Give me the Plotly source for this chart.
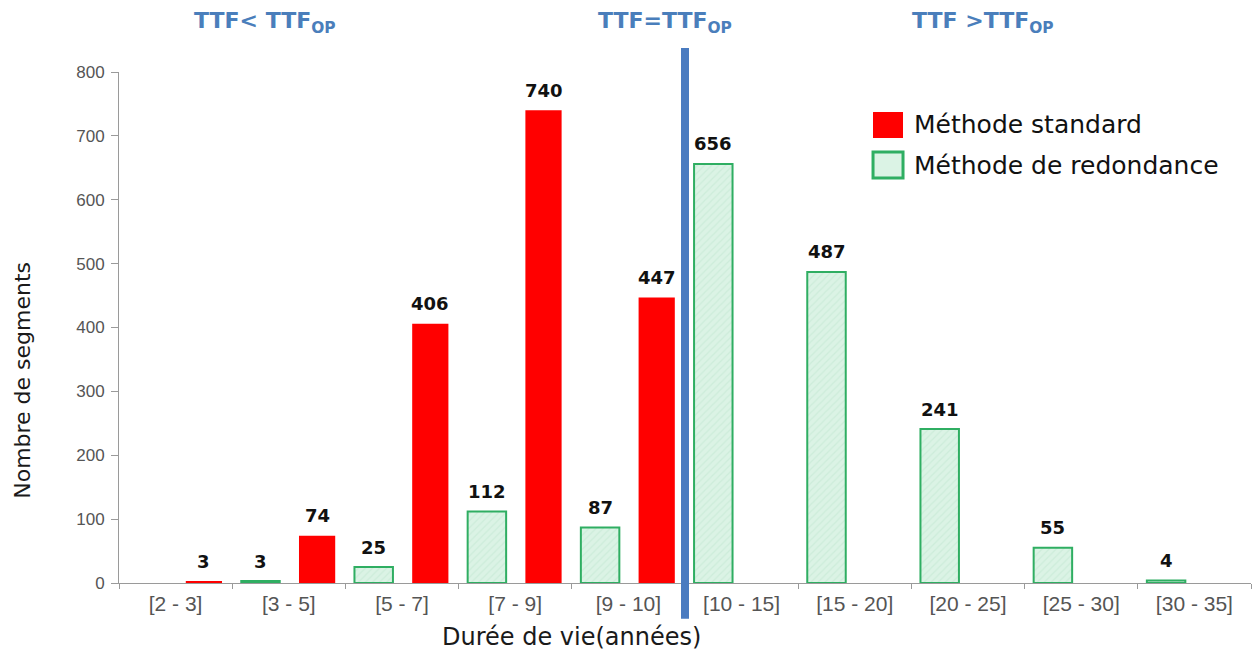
import plotly.graph_objects as go

# Lifetime classes (years)
categories = ["[2 - 3]", "[3 - 5]", "[5 - 7]", "[7 - 9]", "[9 - 10]",
              "[10 - 15]", "[15 - 20]", "[20 - 25]", "[25 - 30]", "[30 - 35]"]

# Number of segments per lifetime class
standard = [3, 74, 406, 740, 447, None, None, None, None, None]
redondance = [None, 3, 25, 112, 87, 656, 487, 241, 55, 4]

y_ticks = [0, 100, 200, 300, 400, 500, 600, 700, 800]

SANS = "Liberation Sans, Arial, sans-serif"
WIDE = "DejaVu Sans, Verdana, sans-serif"
GREEN_EDGE = "#2fae62"
GREEN_FILL = "#dbf3e5"
RED = "#ff0000"
BLUE = "#4a7bc0"
TITLE_BLUE = "#4a7ebb"

# bar geometry within a category (fraction of the category width)
GREEN_W, GREEN_OFF = 0.34, -0.42
RED_W, RED_OFF = 0.32, 0.09
CAT_PX = 113.2

fig = go.Figure()

fig.add_trace(go.Bar(
    x=categories, y=redondance, name="Méthode de redondance",
    width=GREEN_W, offset=GREEN_OFF,
    marker=dict(color=GREEN_FILL, line=dict(color=GREEN_EDGE, width=2),
                pattern=dict(shape="/", fgcolor="#bfe6cf", bgcolor=GREEN_FILL,
                             size=5, solidity=0.25)),
    showlegend=False,
))

fig.add_trace(go.Bar(
    x=categories, y=standard, name="Méthode standard",
    width=RED_W, offset=RED_OFF,
    marker=dict(color=RED, line=dict(color=RED, width=0)),
    showlegend=False,
))

# Value labels above each bar
for series, off, w in ((redondance, GREEN_OFF, GREEN_W), (standard, RED_OFF, RED_W)):
    shift = (off + w / 2) * CAT_PX
    for cat, val in zip(categories, series):
        if val is None:
            continue
        fig.add_annotation(x=cat, y=val, xref="x", yref="y", text="<b>%d</b>" % val,
                           showarrow=False, xshift=shift, yshift=20,
                           xanchor="center", yanchor="middle",
                           font=dict(family=WIDE, size=18, color="#111111"))

# Separator between TTF < TTF_OP and TTF > TTF_OP
fig.add_shape(type="line", xref="x", yref="paper", x0=4.5, x1=4.5,
              y0=-0.07, y1=1.047, line=dict(color=BLUE, width=8), layer="above")

zone_labels = [
    (0.79, "TTF< TTF<sub>OP</sub>"),
    (4.32, "TTF=TTF<sub>OP</sub>"),
    (7.13, "TTF >TTF<sub>OP</sub>"),
]
for xpos, txt in zone_labels:
    fig.add_annotation(x=xpos, xref="x", y=1.097, yref="paper", text="<b>" + txt + "</b>",
                       showarrow=False, font=dict(family=WIDE, size=22, color=TITLE_BLUE),
                       xanchor="center", yanchor="middle")

# Legend drawn as large swatches with labels
legend_items = [
    ("Méthode standard", RED, RED, 0, 0.9217, 0.8708, 0.8963),
    ("Méthode de redondance", GREEN_FILL, GREEN_EDGE, 3, 0.8434, 0.7926, 0.8180),
]
for name, fill, edge, lw, top, bottom, mid in legend_items:
    fig.add_shape(type="rect", xref="paper", yref="paper", x0=0.6661, x1=0.6926,
                  y0=bottom, y1=top, fillcolor=fill,
                  line=dict(color=edge, width=lw) if lw else dict(width=0))
    fig.add_annotation(x=0.7005, xref="paper", y=mid, yref="paper", text=name,
                       showarrow=False, xanchor="left", yanchor="middle",
                       font=dict(family=WIDE, size=25, color="#111111"))

# Axis titles
fig.add_annotation(x=-0.086, xref="paper", y=0.397, yref="paper",
                   text="Nombre de segments", textangle=-90, showarrow=False,
                   xanchor="center", yanchor="middle",
                   font=dict(family=WIDE, size=22, color="#1a1a1a"))
fig.add_annotation(x=0.400, xref="paper", y=-0.106, yref="paper",
                   text="Durée de vie(années)", showarrow=False,
                   xanchor="center", yanchor="middle",
                   font=dict(family=WIDE, size=24, color="#1a1a1a"))

fig.update_layout(
    width=1252, height=664,
    margin=dict(l=119, r=1, t=72, b=81),
    plot_bgcolor="white", paper_bgcolor="white",
    barmode="group",
    font=dict(family=SANS, color="#222222"),
    showlegend=False,
    xaxis=dict(
        type="category", categoryorder="array", categoryarray=categories,
        showline=True, linecolor="#9a9a9a", linewidth=1,
        ticks="outside", tickson="boundaries", ticklen=5, tickcolor="#9a9a9a",
        ticklabelstandoff=2,
        tickfont=dict(family=SANS, size=21, color="#555555"),
        showgrid=False, zeroline=False, range=[-0.5, 9.5],
    ),
    yaxis=dict(
        range=[0, 800], tickvals=y_ticks,
        showline=True, linecolor="#9a9a9a", linewidth=1,
        ticks="outside", ticklen=7, tickcolor="#9a9a9a",
        ticklabelstandoff=3,
        tickfont=dict(family=SANS, size=17, color="#555555"),
        showgrid=False, zeroline=False,
    ),
)

fig.write_html("out.html")
